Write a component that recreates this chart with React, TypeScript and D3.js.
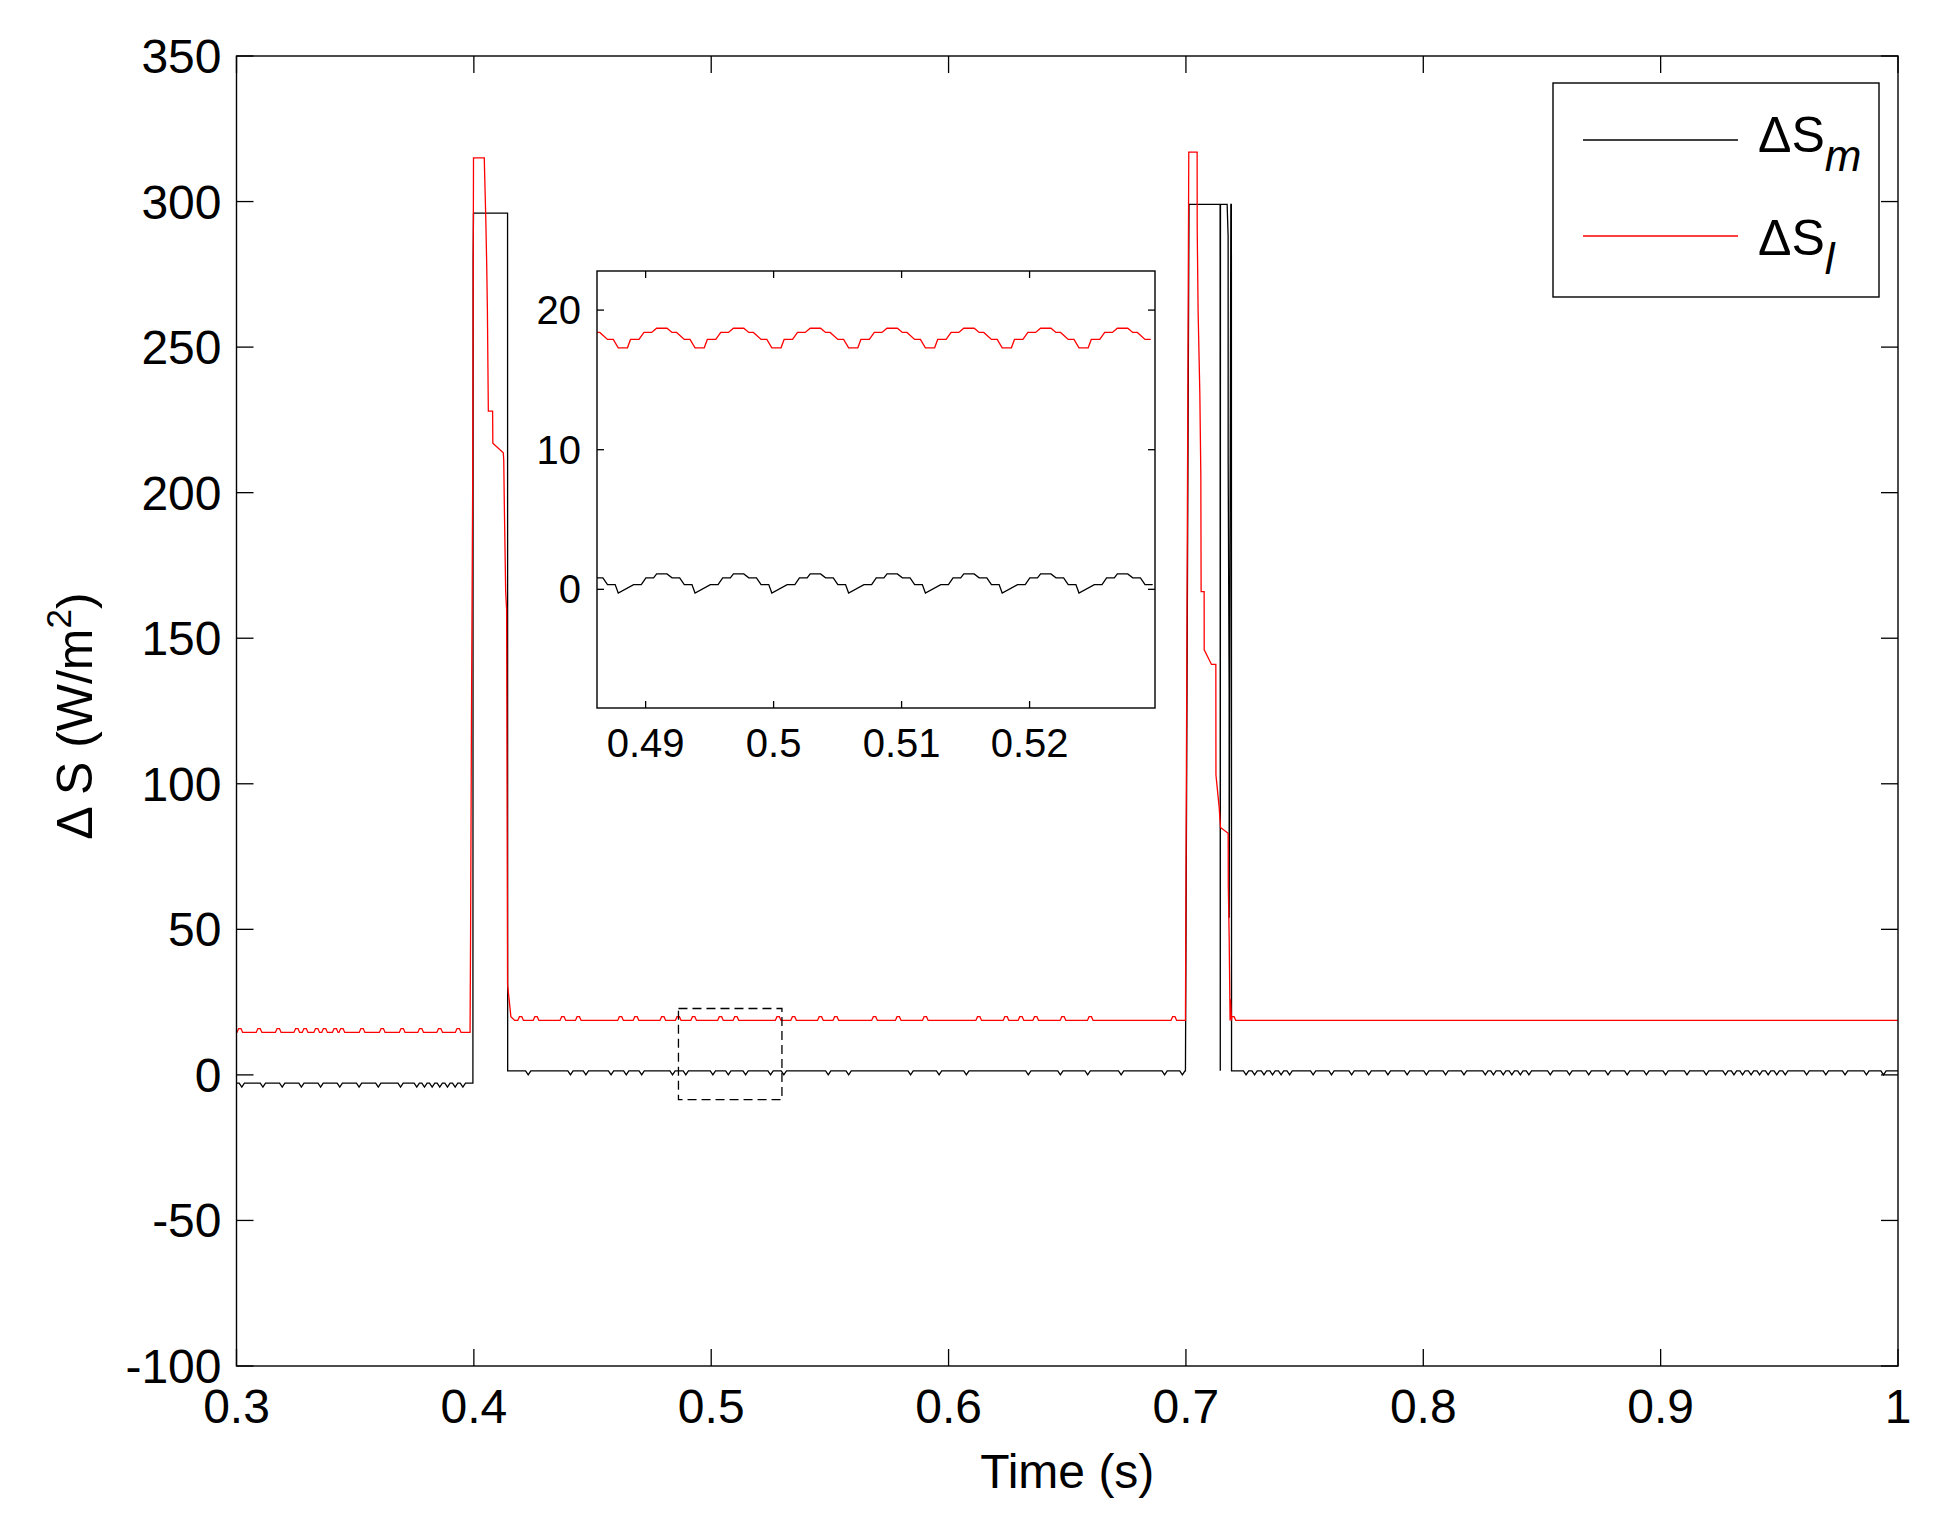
import React from 'react';
import * as d3 from 'd3';

const W = 1942;
const H = 1525;
const FONT = 'Liberation Sans, Arial, Helvetica, sans-serif';

// main axes frame and inset frame (pixels)
const frame = { left: 236.5, right: 1898, top: 56, bottom: 1366 };
const insetFrame = { left: 597, right: 1155, top: 271, bottom: 708 };
const legendBox = { left: 1553, right: 1879, top: 83, bottom: 297 };

const xTicks = [0.3, 0.4, 0.5, 0.6, 0.7, 0.8, 0.9, 1];
const yTicks = [-100, -50, 0, 50, 100, 150, 200, 250, 300, 350];
const insetXTicks = [0.49, 0.5, 0.51, 0.52];
const insetYTicks = [0, 10, 20];
const insetXDomain = [0.4862, 0.5298];
const insetYDomain = [-8.5, 22.8];

// ΔS_l (red) : breakpoints [time, value]
const redKeys: [number, number][] = [
  [0.3, 14.6], [0.3984, 14.6], [0.3986, 45], [0.399, 124], [0.3995, 202], [0.39985, 315],
  [0.4044, 315], [0.4045, 311], [0.405, 295], [0.4054, 279], [0.4057, 263], [0.4061, 228],
  [0.4079, 228], [0.408, 217], [0.4124, 213.7], [0.4126, 211], [0.4128, 198], [0.4134, 166],
  [0.4138, 160], [0.4142, 31], [0.4156, 20], [0.4172, 18.7],
  [0.6998, 18.7], [0.7012, 317], [0.70472, 317], [0.70475, 291], [0.70514, 262], [0.70586, 234],
  [0.70628, 206], [0.7064, 166], [0.70767, 166], [0.7077, 146], [0.71077, 141], [0.7126, 141],
  [0.71265, 103], [0.714, 92], [0.71457, 85], [0.7178, 83], [0.71785, 65], [0.71822, 47],
  [0.7188, 26], [0.71922, 18.7], [1.0, 18.7],
];

// ΔS_m (black) : breakpoints [time, value]
const blackKeys: [number, number][] = [
  [0.3, -2.8], [0.3996, -2.8], [0.3997, 280], [0.39985, 296], [0.4142, 296], [0.41425, 1.4],
  [0.6998, 1.4], [0.7013, 299], [0.7144, 299], [0.71447, 1.4], [0.71455, 299], [0.71736, 299],
  [0.71778, 288], [0.7178, 210], [0.7182, 132], [0.71822, 54], [0.71892, 299], [0.71915, 299],
  [0.71922, 1.4], [1.0, 1.4],
];

// small ripple bumps seen on the flat parts
const redBumps = [
  0.3014, 0.3095, 0.3176, 0.3254, 0.3289, 0.3338, 0.3371, 0.3416, 0.3444, 0.3529, 0.3614,
  0.3698, 0.3776, 0.3856, 0.3934,
  0.4197, 0.4262, 0.4375, 0.444, 0.4618, 0.4683, 0.4796, 0.4861, 0.4926, 0.5039, 0.5104,
  0.5282, 0.5347, 0.546, 0.5525, 0.5688, 0.5788, 0.5902, 0.6127, 0.6242, 0.6305, 0.6367,
  0.6482, 0.6597, 0.6949, 0.7198,
];
const blackDips = [
  0.30223, 0.31112, 0.31925, 0.32734, 0.33543, 0.34351, 0.35164, 0.35973, 0.36912, 0.37595,
  0.37919, 0.38243, 0.38564, 0.38888, 0.39212, 0.39537,
  0.4229, 0.4407, 0.4472, 0.4578, 0.4642, 0.4707, 0.4837, 0.4893, 0.5007, 0.5072, 0.5145,
  0.525, 0.5306, 0.5493, 0.5579, 0.584, 0.596, 0.6075, 0.6336, 0.6471, 0.6586, 0.6727,
  0.691, 0.6985,
  0.72533, 0.72893, 0.73289, 0.73649, 0.74009, 0.74369, 0.75359, 0.76133, 0.7698, 0.777,
  0.7851, 0.7932, 0.8013, 0.8094, 0.81714, 0.82614, 0.82956, 0.8337, 0.8373, 0.8409, 0.8445,
  0.8535, 0.8616, 0.8697, 0.8778, 0.8859, 0.894, 0.9021, 0.9111, 0.9192, 0.9273, 0.9309,
  0.9345, 0.9381, 0.9417, 0.9453, 0.9489, 0.9525, 0.9615, 0.9696, 0.9777, 0.9867, 0.9939,
];

// inset: ripple period read from the zoom window
const insetPeriodStarts = [0.48186, 0.48786, 0.49386, 0.49986, 0.50586, 0.51186, 0.51786, 0.52386];
const redPhase = [0, 0.00072, 0.00096, 0.00162, 0.00201, 0.00261, 0.003, 0.00381, 0.0042, 0.00456, 0.00516, 0.00561];
const redLevels = [17.3, 17.3, 17.9, 17.9, 18.4, 18.4, 18.7, 18.7, 18.4, 18.4, 17.9, 17.9];
const blackPhase = [0, 0.0012, 0.0018, 0.00216, 0.00276, 0.003, 0.00381, 0.0042, 0.0048, 0.00516, 0.00576];
const blackLevels = [-0.26, 0.34, 0.34, 0.82, 0.82, 1.1, 1.1, 0.82, 0.82, 0.34, 0.34];

const withBumps = (
  keys: [number, number][],
  times: number[],
  levelAt: (t: number) => number,
  amp: number,
  flat: boolean,
): [number, number][] => {
  const pts: [number, number][] = [...keys];
  times.forEach(t => {
    const b = levelAt(t);
    if (flat) {
      pts.push([t - 0.0012, b], [t - 0.0005, b + amp], [t + 0.0005, b + amp], [t + 0.0012, b]);
    } else {
      pts.push([t - 0.0011, b], [t, b + amp], [t + 0.0011, b]);
    }
  });
  return pts.sort((a, b) => a[0] - b[0]);
};

const tileInset = (phase: number[], levels: number[]): [number, number][] => {
  const pts: [number, number][] = [];
  insetPeriodStarts.forEach(s => phase.forEach((p, i) => pts.push([s + p, levels[i]])));
  return pts;
};

const App: React.FC = () => {
  const x = d3.scaleLinear().domain([0.3, 1]).range([frame.left, frame.right]);
  const y = d3.scaleLinear().domain([-100, 350]).range([frame.bottom, frame.top]);
  const ix = d3.scaleLinear().domain(insetXDomain).range([insetFrame.left, insetFrame.right]);
  const iy = d3.scaleLinear().domain(insetYDomain).range([insetFrame.bottom, insetFrame.top]);

  const redData = withBumps(redKeys, redBumps, t => (t < 0.4 ? 14.6 : 18.7), 1.3, true);
  const blackData = withBumps(blackKeys, blackDips, t => (t < 0.4 ? -2.8 : 1.4), -1.4, false);

  const line = d3.line<[number, number]>().x(d => x(d[0])).y(d => y(d[1]));
  const iline = d3.line<[number, number]>().x(d => ix(d[0])).y(d => iy(d[1]));

  const tk = 17;
  const itk = 7;

  return (
    <div style={{ position: 'absolute', left: 0, top: 0 }}>
      <svg width={W} height={H} style={{ display: 'block', background: '#fff' }} fontFamily={FONT}>
        <defs>
          <clipPath id="mainClip">
            <rect x={frame.left} y={frame.top} width={frame.right - frame.left} height={frame.bottom - frame.top} />
          </clipPath>
          <clipPath id="insetClip">
            <rect x={insetFrame.left} y={insetFrame.top} width={insetFrame.right - insetFrame.left} height={insetFrame.bottom - insetFrame.top} />
          </clipPath>
        </defs>
        <rect width={W} height={H} fill="#fff" />

        {/* main data */}
        <g clipPath="url(#mainClip)" fill="none" strokeWidth={1.3}>
          <path d={line(blackData) || ''} stroke="#000" />
          <path d={line(redData) || ''} stroke="#ff0000" />
        </g>

        {/* zoom region marker */}
        <rect
          x={x(insetXDomain[0])}
          y={y(insetYDomain[1])}
          width={x(insetXDomain[1]) - x(insetXDomain[0])}
          height={y(insetYDomain[0]) - y(insetYDomain[1])}
          fill="none"
          stroke="#000"
          strokeWidth={1.3}
          strokeDasharray="9,5"
        />

        {/* main axes box + ticks */}
        <rect x={frame.left} y={frame.top} width={frame.right - frame.left} height={frame.bottom - frame.top} fill="none" stroke="#000" strokeWidth={1.4} />
        {xTicks.map(t => (
          <g key={'x' + t}>
            <line x1={x(t)} x2={x(t)} y1={frame.bottom} y2={frame.bottom - tk} stroke="#000" strokeWidth={1.3} />
            <line x1={x(t)} x2={x(t)} y1={frame.top} y2={frame.top + tk} stroke="#000" strokeWidth={1.3} />
            <text x={x(t)} y={1423} fontSize={48} textAnchor="middle">{String(t)}</text>
          </g>
        ))}
        {yTicks.map(t => (
          <g key={'y' + t}>
            <line x1={frame.left} x2={frame.left + tk} y1={y(t)} y2={y(t)} stroke="#000" strokeWidth={1.3} />
            <line x1={frame.right} x2={frame.right - tk} y1={y(t)} y2={y(t)} stroke="#000" strokeWidth={1.3} />
            <text x={frame.left - 15} y={y(t) + 17} fontSize={48} textAnchor="end">{String(t)}</text>
          </g>
        ))}

        <text x={(frame.left + frame.right) / 2} y={1488} fontSize={48} textAnchor="middle">Time (s)</text>
        <text transform="translate(92,716) rotate(-90)" fontSize={50} textAnchor="middle">
          {'\u0394  S (W/m'}
          <tspan dy={-21} fontSize={35}>2</tspan>
          <tspan dy={21}>)</tspan>
        </text>

        {/* inset */}
        <rect x={insetFrame.left} y={insetFrame.top} width={insetFrame.right - insetFrame.left} height={insetFrame.bottom - insetFrame.top} fill="#fff" stroke="none" />
        <g clipPath="url(#insetClip)" fill="none" strokeWidth={1.3}>
          <path d={iline(tileInset(blackPhase, blackLevels)) || ''} stroke="#000" />
          <path d={iline(tileInset(redPhase, redLevels)) || ''} stroke="#ff0000" />
        </g>
        <rect x={insetFrame.left} y={insetFrame.top} width={insetFrame.right - insetFrame.left} height={insetFrame.bottom - insetFrame.top} fill="none" stroke="#000" strokeWidth={1.4} />
        {insetXTicks.map(t => (
          <g key={'ix' + t}>
            <line x1={ix(t)} x2={ix(t)} y1={insetFrame.bottom} y2={insetFrame.bottom - itk} stroke="#000" strokeWidth={1.3} />
            <line x1={ix(t)} x2={ix(t)} y1={insetFrame.top} y2={insetFrame.top + itk} stroke="#000" strokeWidth={1.3} />
            <text x={ix(t)} y={757} fontSize={40} textAnchor="middle">{String(t)}</text>
          </g>
        ))}
        {insetYTicks.map(t => (
          <g key={'iy' + t}>
            <line x1={insetFrame.left} x2={insetFrame.left + itk} y1={iy(t)} y2={iy(t)} stroke="#000" strokeWidth={1.3} />
            <line x1={insetFrame.right} x2={insetFrame.right - itk} y1={iy(t)} y2={iy(t)} stroke="#000" strokeWidth={1.3} />
            <text x={insetFrame.left - 16} y={iy(t) + 14} fontSize={40} textAnchor="end">{String(t)}</text>
          </g>
        ))}

        {/* legend */}
        <rect x={legendBox.left} y={legendBox.top} width={legendBox.right - legendBox.left} height={legendBox.bottom - legendBox.top} fill="#fff" stroke="#000" strokeWidth={1.4} />
        <line x1={1583} x2={1738} y1={140} y2={140} stroke="#000" strokeWidth={1.3} />
        <line x1={1583} x2={1738} y1={236} y2={236} stroke="#ff0000" strokeWidth={1.3} />
        <text x={1758} y={152} fontSize={50}>
          {'\u0394S'}
          <tspan dy={19} fontSize={44} fontStyle="italic">m</tspan>
        </text>
        <text x={1758} y={255} fontSize={50}>
          {'\u0394S'}
          <tspan dy={19} fontSize={44} fontStyle="italic">l</tspan>
        </text>
      </svg>
    </div>
  );
};

export default App;
